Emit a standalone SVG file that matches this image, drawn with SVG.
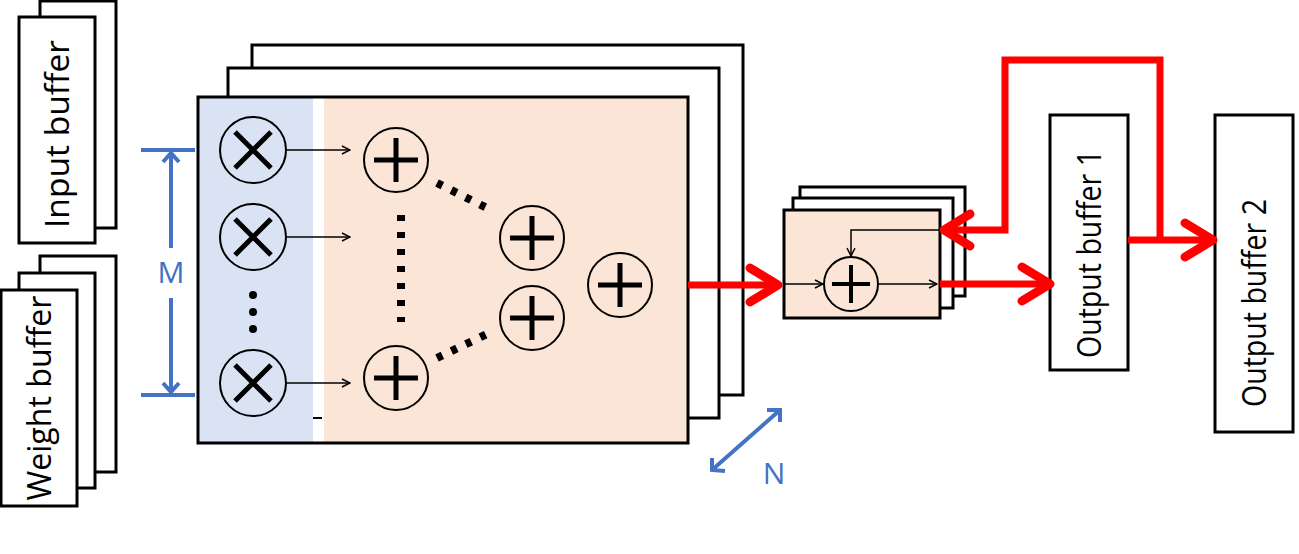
<svg xmlns="http://www.w3.org/2000/svg" width="1299" height="554" viewBox="0 0 1299 554">
<style>
.b{fill:#fff;stroke:#000;stroke-width:3}
.t{font-family:"Open Sans","Liberation Sans",sans-serif;font-size:33px;fill:#000}
.op{stroke:#000;stroke-width:5}
.a{stroke:#000;stroke-width:1.5;fill:none}
.r{stroke:#f00;stroke-width:7;fill:none}
.rh{stroke:#f00;stroke-width:9;fill:none;stroke-linecap:round;stroke-linejoin:round}
.bl{stroke:#4472C4;stroke-width:4;fill:none}
.dot{fill:#000}
</style>
<defs>
<marker id="ah" markerWidth="10" markerHeight="10" refX="9" refY="5" orient="auto" markerUnits="userSpaceOnUse"><path d="M1,1 L9,5 L1,9" fill="none" stroke="#000" stroke-width="1.5"/></marker>
<g id="mul"><circle r="33" fill="none" stroke="#000" stroke-width="2"/><path d="M-18,-18 L18,18 M18,-18 L-18,18" class="op"/></g>
<g id="add"><circle r="32" fill="none" stroke="#000" stroke-width="2"/><path d="M-22,0 H22 M0,-22 V22" class="op"/></g>
</defs>
<g id="input-buffer"><rect class="b" x="40" y="1" width="76" height="227"/><rect class="b" x="19" y="17" width="76" height="226"/><text class="t" transform="translate(69,134) rotate(-90)" text-anchor="middle" textLength="188" lengthAdjust="spacingAndGlyphs">Input buffer</text></g>
<g id="weight-buffer"><rect class="b" x="40" y="256" width="76" height="216"/><rect class="b" x="19" y="273" width="76" height="215"/><rect class="b" x="1" y="290" width="76" height="216"/><text class="t" transform="translate(51,398) rotate(-90)" text-anchor="middle" textLength="205" lengthAdjust="spacingAndGlyphs">Weight buffer</text></g>
<g id="pe-array">
<rect class="b" x="252" y="45" width="491" height="350"/>
<rect class="b" x="228" y="68" width="491" height="350"/>
<rect x="198" y="97" width="490" height="346" fill="#fbe5d6"/>
<rect x="198" y="97" width="115" height="346" fill="#dae3f3"/>
<rect x="313" y="97" width="11" height="346" fill="#fff"/>
<rect x="198" y="97" width="490" height="346" fill="none" stroke="#000" stroke-width="3"/>
<use href="#mul" x="253" y="150"/><use href="#mul" x="253" y="237"/><use href="#mul" x="253" y="383"/>
<circle class="dot" cx="253" cy="295" r="4"/><circle class="dot" cx="253" cy="312" r="4"/><circle class="dot" cx="253" cy="329" r="4"/>
<use href="#add" x="396" y="160"/><use href="#add" x="396" y="378"/><use href="#add" x="532" y="238"/><use href="#add" x="532" y="318"/><use href="#add" x="620" y="285"/>
<path d="M401,215 V322" stroke="#000" stroke-width="8" stroke-dasharray="6,11"/>
<path d="M437,183 L487,208" stroke="#000" stroke-width="8" stroke-dasharray="6,10"/>
<path d="M437,358 L487,334" stroke="#000" stroke-width="8" stroke-dasharray="6,10"/>
<path d="M313,418 H322" stroke="#000" stroke-width="2"/>
</g>
<g id="accumulator">
<rect class="b" x="800" y="187" width="165" height="109"/>
<rect class="b" x="793" y="198" width="160" height="110"/>
<rect x="784" y="210" width="156" height="108" fill="#fbe5d6" stroke="#000" stroke-width="3"/>
<circle cx="851" cy="284" r="27" fill="none" stroke="#000" stroke-width="2"/>
<path d="M832,284 H870 M851,265 V303" stroke="#000" stroke-width="4"/>
</g>
<g id="output-buffer-1"><rect class="b" x="1050" y="115" width="78" height="255"/><text class="t" transform="translate(1101,254) rotate(-90)" text-anchor="middle" textLength="208" lengthAdjust="spacingAndGlyphs">Output buffer 1</text></g>
<g id="output-buffer-2"><rect class="b" x="1215" y="115" width="78" height="317"/><text class="t" transform="translate(1266,303) rotate(-90)" text-anchor="middle" textLength="208" lengthAdjust="spacingAndGlyphs">Output buffer 2</text></g>
<g id="connectors">
<path class="a" d="M287,150 H350" marker-end="url(#ah)"/>
<path class="a" d="M287,237 H350" marker-end="url(#ah)"/>
<path class="a" d="M287,383 H350" marker-end="url(#ah)"/>
<path class="a" d="M784,284 H823" marker-end="url(#ah)"/>
<path class="a" d="M878,284 H937" marker-end="url(#ah)"/>
<path class="a" d="M940,230 H851 V256" marker-end="url(#ah)"/>
<path class="bl" d="M141,150 H195 M141,395 H195 M171,152 V248 M171,298 V393"/>
<path class="bl" d="M163,162 L171,153 L179,162 M163,383 L171,392 L179,383"/>
<text x="171" y="283" font-family="Open Sans,Liberation Sans,sans-serif" font-size="30" fill="#4472C4" text-anchor="middle">M</text>
<path class="bl" d="M712,470 L780,410 M712,458 L712,470 L725,471 M767,410 L780,410 L780,422" stroke-width="3"/>
<text x="774" y="484" font-family="Open Sans,Liberation Sans,sans-serif" font-size="30" fill="#4472C4" text-anchor="middle">N</text>
<path class="r" d="M688,285 H776"/><path class="rh" d="M750,268 L778,285 L750,302"/>
<path class="r" d="M940,284 H1048"/><path class="rh" d="M1022,267 L1050,284 L1022,301"/>
<path class="r" d="M1128,240 H1210"/><path class="rh" d="M1185,223 L1213,240 L1185,257"/>
<path class="r" d="M1160,240 V60 H1005 V230 H946"/><path class="rh" d="M970,214 L944,230 L970,246"/>
</g>
</svg>
